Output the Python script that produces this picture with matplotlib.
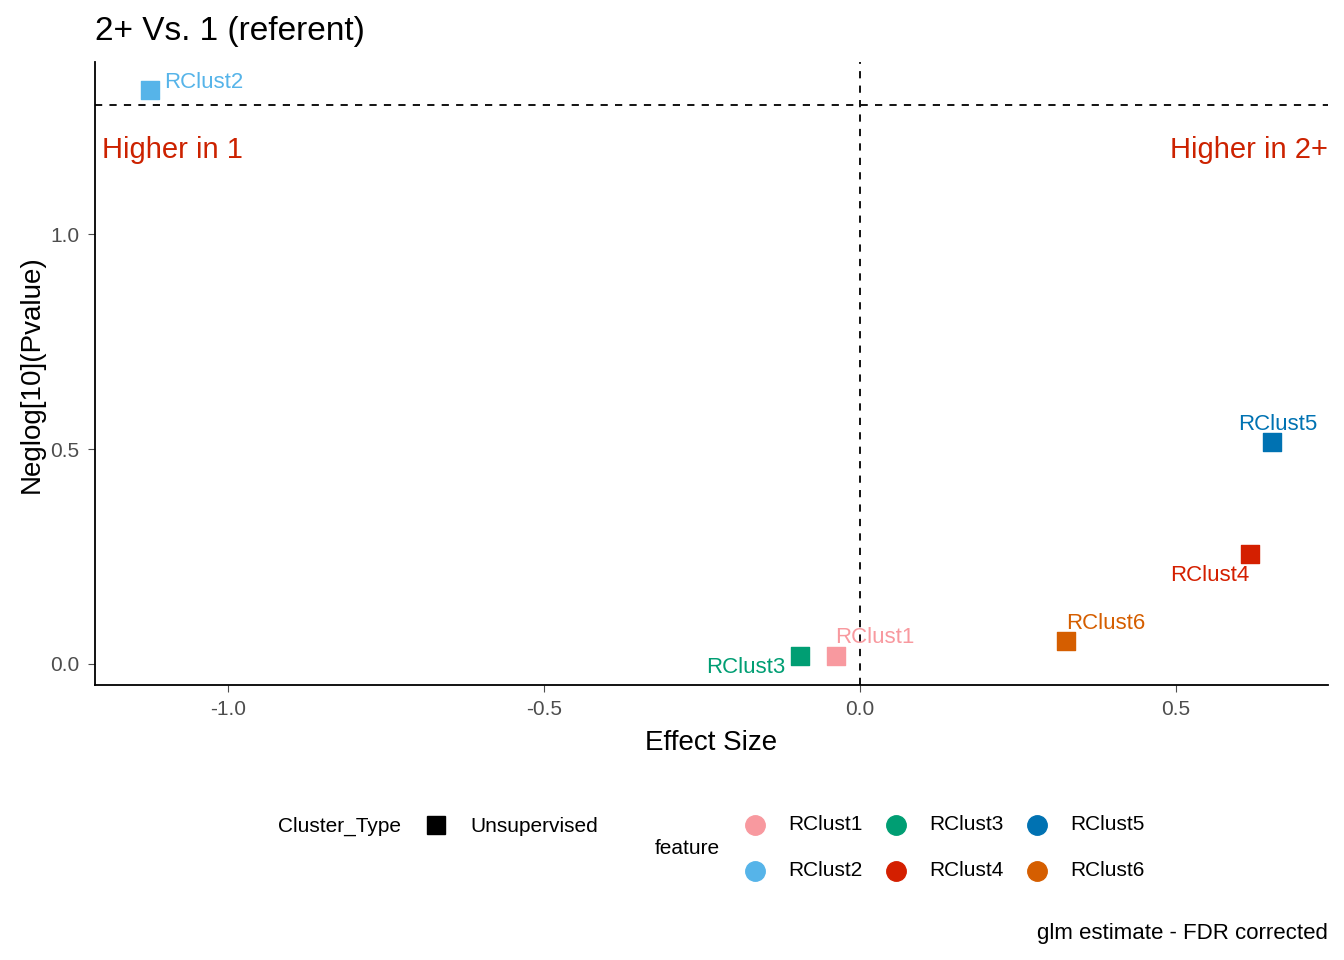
import matplotlib.pyplot as plt

features = ["RClust1", "RClust2", "RClust3", "RClust4", "RClust5", "RClust6"]
effect = [-0.038, -1.123, -0.095, 0.617, 0.652, 0.326]
neglogp = [0.019, 1.335, 0.019, 0.256, 0.516, 0.053]
colors = ["#F8999F", "#56B4E9", "#009E73", "#D41F00", "#0072B2", "#D55E00"]
# label offsets in pixels (dx, dy, ha)
offsets = [(0, 18, "left"), (14, 8, "left"), (-14, -12, "right"), (0, -22, "right"), (6, 18, "center"), (0, 18, "left")]

plt.rcParams["font.family"] = ["Liberation Sans", "DejaVu Sans"]
plt.rcParams["axes.unicode_minus"] = False
fig = plt.figure(figsize=(13.44, 9.6), dpi=100)
ax = fig.add_axes([0.0707, 0.2865, 0.9173, 0.6485])

for f, x, y, c, (dx, dy, ha) in zip(features, effect, neglogp, colors, offsets):
    ax.scatter(x, y, marker="s", s=170, color=c, zorder=3)
    ax.annotate(f, (x, y), xytext=(dx, dy), textcoords="offset pixels", ha=ha,
                va="center", color=c, fontsize=16)

ax.axhline(1.301, color="black", ls=(0, (4, 4)), lw=1.3)
ax.axvline(0, color="black", ls=(0, (4, 4)), lw=1.3)
ax.set_xlim(-1.21, 0.741)
ax.set_ylim(-0.049, 1.40)
ax.set_xticks([-1.0, -0.5, 0.0, 0.5])
ax.set_yticks([0.0, 0.5, 1.0])
ax.tick_params(labelsize=15, colors="#4D4D4D", length=5, pad=6)
for s in ["top", "right"]:
    ax.spines[s].set_visible(False)
ax.spines["left"].set_linewidth(1.3)
ax.spines["bottom"].set_linewidth(1.3)
ax.set_xlabel("Effect Size", fontsize=20, labelpad=8)
ax.set_ylabel("Neglog[10](Pvalue)", fontsize=20)
ax.set_title("2+ Vs. 1 (referent)", fontsize=24, loc="left", x=0.0, pad=16)
ax.text(0.006, 0.86, "Higher in 1", transform=ax.transAxes, color="#CC2200", fontsize=21, va="center")
ax.text(1.0, 0.86, "Higher in 2+", transform=ax.transAxes, color="#CC2200", fontsize=21, va="center", ha="right")

# legend
W, H = 1344, 960
def fx(p): return p / W
def fy(p): return 1 - p / H
fig.text(fx(278), fy(826), "Cluster_Type", fontsize=15, va="center")
fig.patches.append(plt.Rectangle((fx(427), fy(834)), 18 / W, 18 / H, color="black", transform=fig.transFigure))
fig.text(fx(470), fy(826), "Unsupervised", fontsize=15, va="center")
fig.text(fx(655), fy(849), "feature", fontsize=15, va="center")
pos = [(755, 825), (755, 871), (896, 825), (896, 871), (1037, 825), (1037, 871)]
for f, c, (px, py) in zip(features, colors, pos):
    fig.lines.append(plt.Line2D([fx(px)], [fy(py)], marker="o", ms=14, color=c, transform=fig.transFigure))
    fig.text(fx(px + 33), fy(py), f, fontsize=15, va="center")
fig.text(fx(1328), fy(933), "glm estimate - FDR corrected", fontsize=16, va="center", ha="right")

fig.savefig("out.png", dpi=100)
